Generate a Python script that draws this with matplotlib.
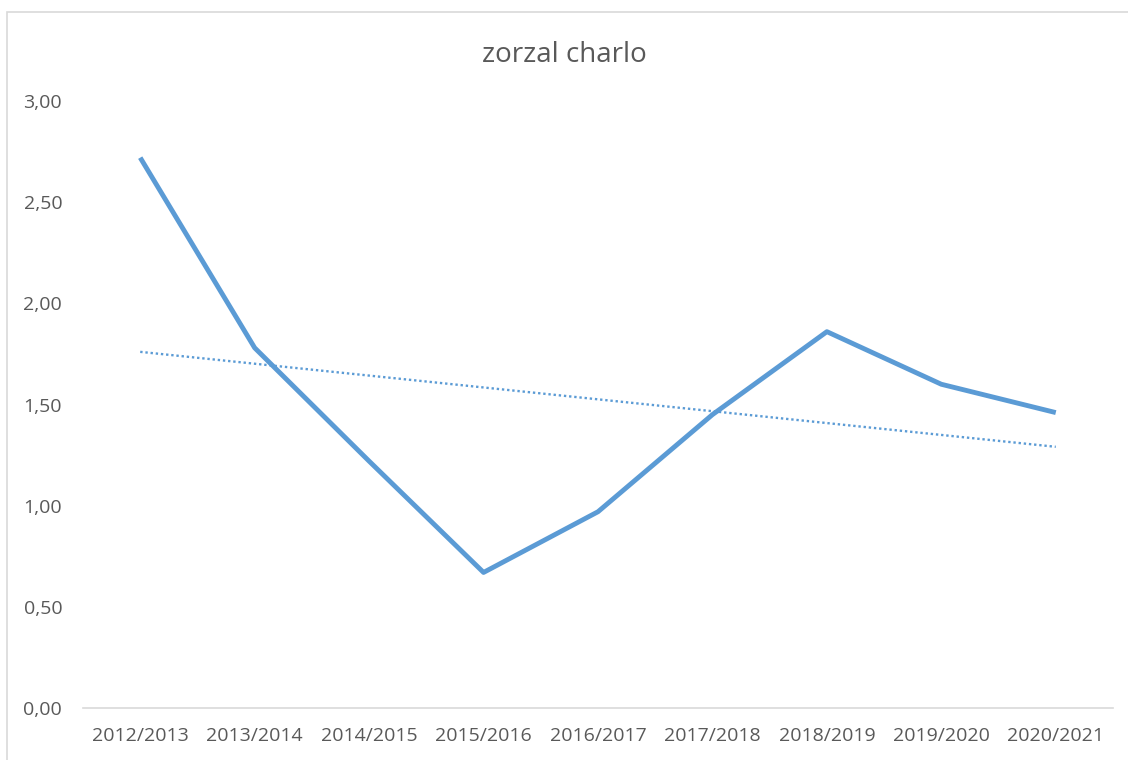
import numpy as np
import matplotlib
matplotlib.use("Agg")
from matplotlib import pyplot as plt
from matplotlib.patches import Rectangle

# temporadas y valores
seasons = ["2012/2013", "2013/2014", "2014/2015", "2015/2016", "2016/2017",
           "2017/2018", "2018/2019", "2019/2020", "2020/2021"]
values = [2.72, 1.78, 1.22, 0.67, 0.97, 1.45, 1.86, 1.60, 1.46]
y_ticks = [0.0, 0.5, 1.0, 1.5, 2.0, 2.5, 3.0]

blue = "#5B9BD5"
grey_text = "#595959"

plt.rcParams['font.family'] = ['Open Sans', 'DejaVu Sans']

fig = plt.figure(figsize=(11.28, 7.60), dpi=100)
ax = fig.add_axes([83 / 1128, 1 - 708 / 760, (1113 - 83) / 1128, (708 - 101) / 760])

x = np.arange(len(seasons))
ax.plot(x, values, color=blue, linewidth=3.5, solid_capstyle='butt', solid_joinstyle='round')

# linea de tendencia lineal
coef = np.polyfit(x, values, 1)
ax.plot(x, np.polyval(coef, x), color=blue, linewidth=1.7, linestyle=(0, (1, 1.2)))

ax.set_xlim(-0.5, len(seasons) - 0.5)
ax.set_ylim(0, 3)
ax.set_xticks(x)
ax.set_xticklabels(seasons)
ax.set_yticks(y_ticks)
ax.set_yticklabels([f"{v:.2f}".replace(".", ",") for v in y_ticks])
ax.tick_params(axis='both', length=0, colors=grey_text, labelsize=14)
ax.tick_params(axis='y', pad=15)
ax.tick_params(axis='x', pad=14)

for s in ["top", "right", "left"]:
    ax.spines[s].set_visible(False)
ax.spines["bottom"].set_color("#D9D9D9")
ax.spines["bottom"].set_linewidth(1.2)

fig.text(0.5, 1 - 55 / 760, "zorzal charlo", ha='center', va='center',
         fontsize=20, color=grey_text)

# marco del grafico
fig.patches.append(Rectangle((7 / 1128, -0.05), 1.1, 1 - 12 / 760 + 0.05,
                             transform=fig.transFigure, fill=False,
                             edgecolor="#D9D9D9", linewidth=1.2))

fig.savefig("out.png", dpi=100, facecolor="white")
